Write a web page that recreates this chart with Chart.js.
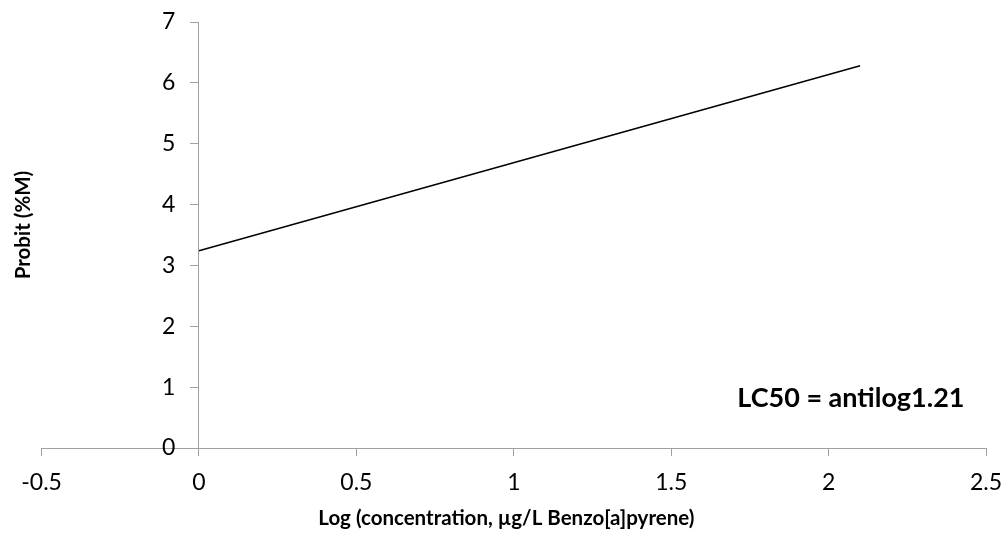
<!DOCTYPE html>
<html>
<head>
<meta charset="utf-8">
<script src="https://cdn.jsdelivr.net/npm/chart.js"></script>
<style>
  html, body { margin: 0; padding: 0; background: #fff; }
  #wrap { width: 1005px; height: 538px; }
</style>
</head>
<body>
<div id="wrap"><canvas id="myChart"></canvas></div>
<script>
// probit regression line (two ends of the fitted line)
const logConc = [0, 2.1];
const probit = [3.24, 6.28];

const xTitle = 'Log (concentration, µg/L Benzo[a]pyrene)';
const yTitle = 'Probit (%M)';
const noteText = 'LC50 = antilog1.21';
const notePos = [1.71, 0.82]; // x, y in data units (left edge of text)

const axisGray = '#a0a0a0';
const fontFam = 'Lato, "Open Sans", sans-serif';
const nb = n => '\u00a0'.repeat(n);

const points = logConc.map((x, i) => ({ x: x, y: probit[i] }));

// text note in the lower right
const notePlugin = {
  id: 'note',
  afterDatasetsDraw(chart) {
    const ctx = chart.ctx;
    const xs = chart.scales.x, ys = chart.scales.y;
    ctx.save();
    ctx.font = 'bold 27px ' + fontFam;
    ctx.fillStyle = '#000';
    ctx.textAlign = 'left';
    ctx.textBaseline = 'middle';
    ctx.fillText(noteText, xs.getPixelForValue(notePos[0]), ys.getPixelForValue(notePos[1]));
    ctx.restore();
  }
};

const ctx = document.getElementById('myChart').getContext('2d');
const myChart = new Chart(ctx, {
  type: 'scatter',
  data: {
    datasets: [{
      label: 'Probit',
      data: points,
      showLine: true,
      borderColor: '#000',
      borderWidth: 1.5,
      pointRadius: 0,
      fill: false
    }]
  },
  options: {
    responsive: true,
    maintainAspectRatio: false,
    animation: false,
    layout: { padding: { top: 22, right: 19, bottom: 7, left: 5 } },
    plugins: {
      legend: { display: false },
      tooltip: { enabled: false }
    },
    scales: {
      x: {
        type: 'linear',
        position: 'bottom',
        min: -0.5,
        max: 2.5,
        ticks: {
          stepSize: 0.5,
          color: '#000',
          padding: 13,
          font: { family: fontFam, size: 23 },
          callback: v => String(v)
        },
        grid: { drawOnChartArea: false, drawTicks: true, tickLength: 8, color: axisGray },
        border: { color: axisGray, width: 1 },
        title: {
          display: true,
          text: xTitle + nb(3),
          color: '#000',
          padding: 0,
          font: { family: fontFam, size: 20.5, weight: 'bold' }
        },
        afterFit: s => { s.height = 83; s.paddingRight = 19; }
      },
      y: {
        type: 'linear',
        position: { x: 0 },
        min: 0,
        max: 7,
        ticks: {
          stepSize: 1,
          color: '#000',
          font: { family: fontFam, size: 23 },
          // axis sits inside the plot, so keep labels clear of the tick marks
          callback: v => v + nb(4)
        },
        grid: { drawOnChartArea: false, drawTicks: true, tickLength: 8, color: axisGray },
        border: { color: axisGray, width: 1 }
      },
      yTitleAxis: {
        type: 'linear',
        position: 'left',
        min: 0,
        max: 7,
        ticks: { display: false },
        grid: { display: false, drawTicks: false },
        border: { display: false },
        title: {
          display: true,
          text: nb(4) + yTitle,
          color: '#000',
          padding: 6,
          font: { family: fontFam, size: 20.5, weight: 'bold' }
        }
      }
    }
  },
  plugins: [notePlugin]
});
</script>
</body>
</html>
